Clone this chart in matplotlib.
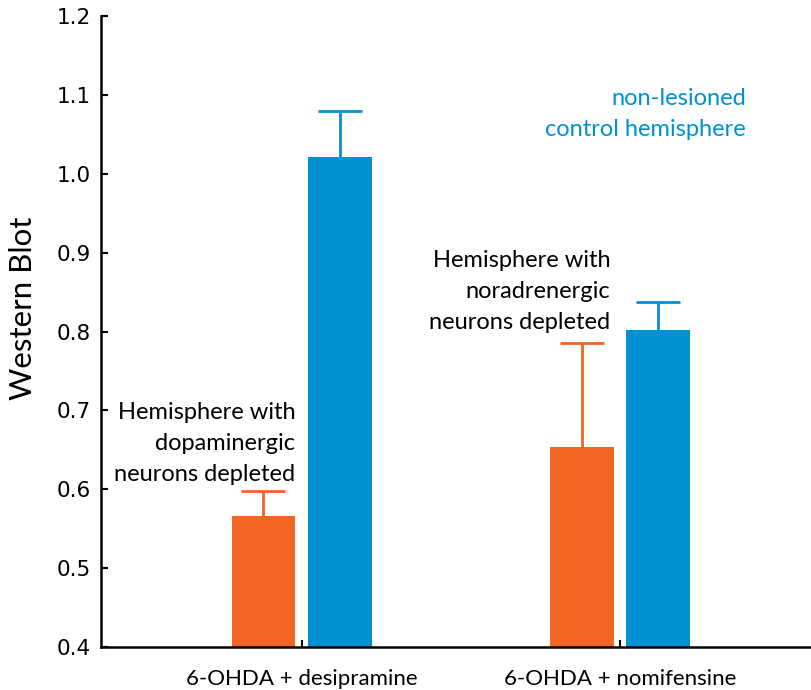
import matplotlib
matplotlib.use('Agg')
import matplotlib.pyplot as plt
import numpy as np

groups = ['6-OHDA + desipramine', '6-OHDA + nomifensine']
lesioned = [0.566, 0.654]
lesioned_err = [0.032, 0.131]
control = [1.021, 0.802]
control_err = [0.059, 0.036]

orange = '#F26522'
blue = '#0091D5'

fig = plt.figure(figsize=(8.11, 6.90), dpi=100)
ax = fig.add_axes([101 / 811, 43 / 690, 1 - 101 / 811, 631 / 690])

x = np.arange(len(groups))
w = 0.2
ax.bar(x - 0.12, lesioned, w, color=orange, zorder=2)
ax.bar(x + 0.12, control, w, color=blue, zorder=2)

# upper error bars only
for xs, vals, errs, c in [(x - 0.12, lesioned, lesioned_err, orange),
                          (x + 0.12, control, control_err, blue)]:
    eb = ax.errorbar(xs, vals, yerr=[np.zeros(len(vals)), errs], fmt='none',
                     ecolor=c, elinewidth=2, capsize=16, capthick=2, zorder=3)
    eb[1][0].set_visible(False)

ax.set_ylim(0.4, 1.2)
ax.set_xlim(-0.63, 1.6)
yt = np.arange(0.4, 1.21, 0.1)
ax.set_yticks(yt)
ax.set_yticklabels(['%.1f' % v for v in yt], fontsize=15.5, family='DejaVu Sans')
ax.set_xticks(x)
ax.set_xticklabels(groups, fontsize=16, family='Lato')
ax.tick_params(axis='y', direction='in', length=5, width=1.5, pad=7)
ax.tick_params(axis='x', direction='in', length=5, width=1.5, pad=16)
ax.spines['top'].set_visible(False)
ax.spines['right'].set_visible(False)
ax.spines['left'].set_linewidth(1.8)
ax.spines['bottom'].set_linewidth(1.8)

ax.set_ylabel('Western Blot', fontsize=22.5, family='Lato')
ax.yaxis.set_label_coords(-0.09, 0.537)

ax.text(x[0] - 0.02, 0.605, 'Hemisphere with\ndopaminergic\nneurons depleted',
        ha='right', va='bottom', multialignment='right', fontsize=17,
        family='Lato', linespacing=1.6)
ax.text(x[1] - 0.03, 0.798, 'Hemisphere with\nnoradrenergic\nneurons depleted',
        ha='right', va='bottom', multialignment='right', fontsize=17,
        family='Lato', linespacing=1.6)
ax.text(x[1] + 0.395, 1.043, 'non-lesioned\ncontrol hemisphere',
        ha='right', va='bottom', multialignment='right', fontsize=17,
        family='Lato', color=blue, linespacing=1.6)

plt.savefig('out.png', dpi=100)
